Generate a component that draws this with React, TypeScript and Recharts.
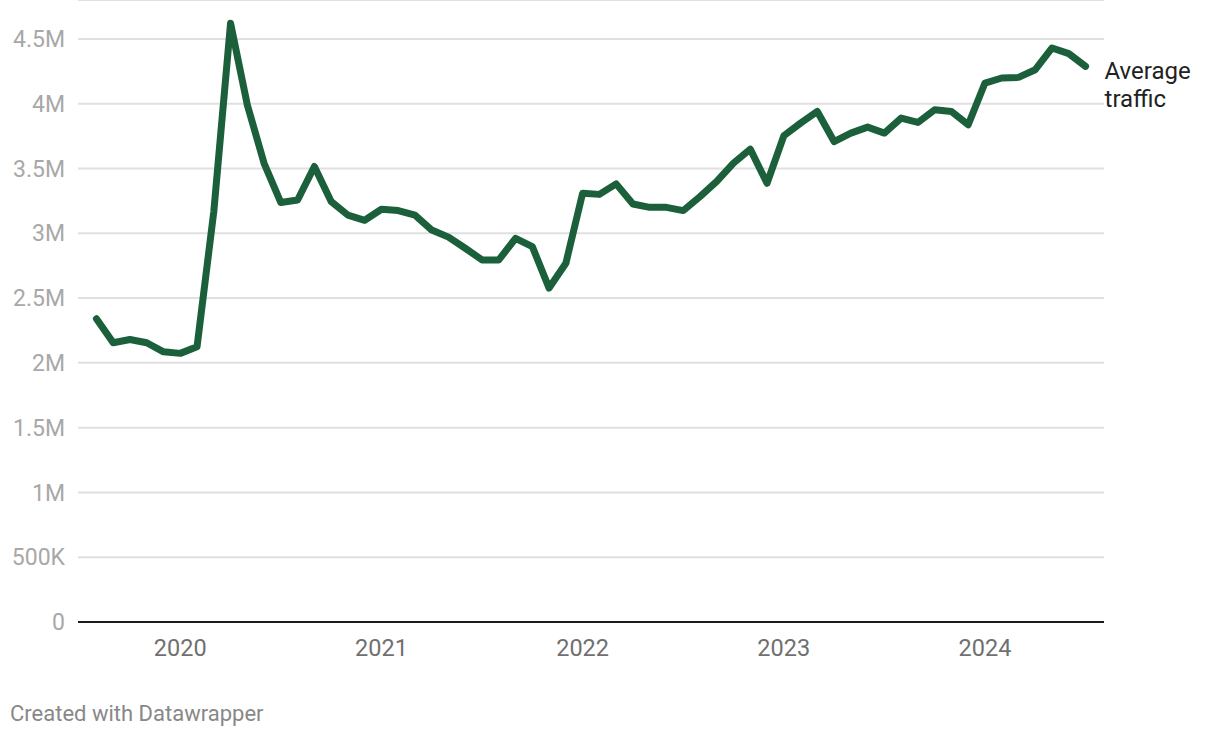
import { LineChart, Line, XAxis, YAxis, CartesianGrid } from 'recharts';

// monthly averages, Aug 2019 -> Jul 2024
const months = [
  '2019-08', '2019-09', '2019-10', '2019-11', '2019-12',
  '2020-01', '2020-02', '2020-03', '2020-04', '2020-05', '2020-06', '2020-07', '2020-08', '2020-09', '2020-10', '2020-11', '2020-12',
  '2021-01', '2021-02', '2021-03', '2021-04', '2021-05', '2021-06', '2021-07', '2021-08', '2021-09', '2021-10', '2021-11', '2021-12',
  '2022-01', '2022-02', '2022-03', '2022-04', '2022-05', '2022-06', '2022-07', '2022-08', '2022-09', '2022-10', '2022-11', '2022-12',
  '2023-01', '2023-02', '2023-03', '2023-04', '2023-05', '2023-06', '2023-07', '2023-08', '2023-09', '2023-10', '2023-11', '2023-12',
  '2024-01', '2024-02', '2024-03', '2024-04', '2024-05', '2024-06', '2024-07',
];

const traffic = [
  2340000, 2155000, 2180000, 2155000, 2085000,
  2073000, 2124000, 3167000, 4620000, 3990000, 3540000, 3237000, 3257000, 3515000, 3245000, 3140000, 3100000,
  3185000, 3175000, 3140000, 3025000, 2970000, 2884000, 2794000, 2794000, 2961000, 2897000, 2577000, 2768000,
  3309000, 3300000, 3381000, 3226000, 3200000, 3200000, 3175000, 3283000, 3400000, 3541000, 3649000, 3386000,
  3752000, 3850000, 3940000, 3708000, 3773000, 3819000, 3773000, 3889000, 3855000, 3953000, 3940000, 3837000,
  4159000, 4198000, 4203000, 4262000, 4430000, 4386000, 4288000,
];

const yTicks = [0, 500000, 1000000, 1500000, 2000000, 2500000, 3000000, 3500000, 4000000, 4500000];
const yearTicks = [5, 17, 29, 41, 53];
const yearLabels = ['2020', '2021', '2022', '2023', '2024'];
const seriesLabel = ['Average', 'traffic'];

const data = months.map((m, i) => ({ t: i, month: m, traffic: traffic[i] }));

const fmtY = (v: number) => {
  if (v === 0) return '0';
  if (v < 1000000) return `${v / 1000}K`;
  return `${v / 1000000}M`;
};

const fmtX = (v: number) => yearLabels[yearTicks.indexOf(v)] ?? '';

const FONT = 'Roboto, "Noto Sans", sans-serif';

const EndLabel = (props: any) => {
  const { x, y, index } = props;
  if (index !== data.length - 1) return null;
  return (
    <text x={x + 19} y={y + 13} fill="#222" fontSize={24} fontFamily={FONT}>
      <tspan x={x + 19}>{seriesLabel[0]}</tspan>
      <tspan x={x + 19} dy={28}>{seriesLabel[1]}</tspan>
    </text>
  );
};

export default function App() {
  return (
    <div style={{ position: 'absolute', left: 0, top: 0, width: 1220, height: 738, background: '#fff', fontFamily: FONT }}>
      <LineChart width={1220} height={738} data={data} margin={{ top: 0, right: 116, left: 0, bottom: 76 }}>
        <CartesianGrid vertical={false} stroke="#e0e0e0" strokeWidth={2} />
        <XAxis
          dataKey="t"
          type="number"
          domain={[-1.1, 60.1]}
          ticks={yearTicks}
          tickFormatter={fmtX}
          height={40}
          tickLine={false}
          axisLine={{ stroke: '#1a1a1a', strokeWidth: 2 }}
          tickMargin={11}
          tick={{ fill: '#707070', fontSize: 23.5, fontFamily: FONT }}
        />
        <YAxis
          domain={[0, 4800000]}
          ticks={yTicks}
          tickFormatter={fmtY}
          width={78}
          tickLine={false}
          axisLine={false}
          tickMargin={7}
          tick={{ fill: '#a8a8a8', fontSize: 23, fontFamily: FONT }}
        />
        <Line
          dataKey="traffic"
          type="linear"
          stroke="#1c5f3b"
          strokeWidth={7}
          strokeLinejoin="round"
          strokeLinecap="round"
          dot={false}
          isAnimationActive={false}
          label={EndLabel}
        />
      </LineChart>
      <div style={{ position: 'absolute', left: 10, top: 701, fontSize: 22, color: '#888', fontFamily: FONT }}>
        Created with Datawrapper
      </div>
    </div>
  );
}
